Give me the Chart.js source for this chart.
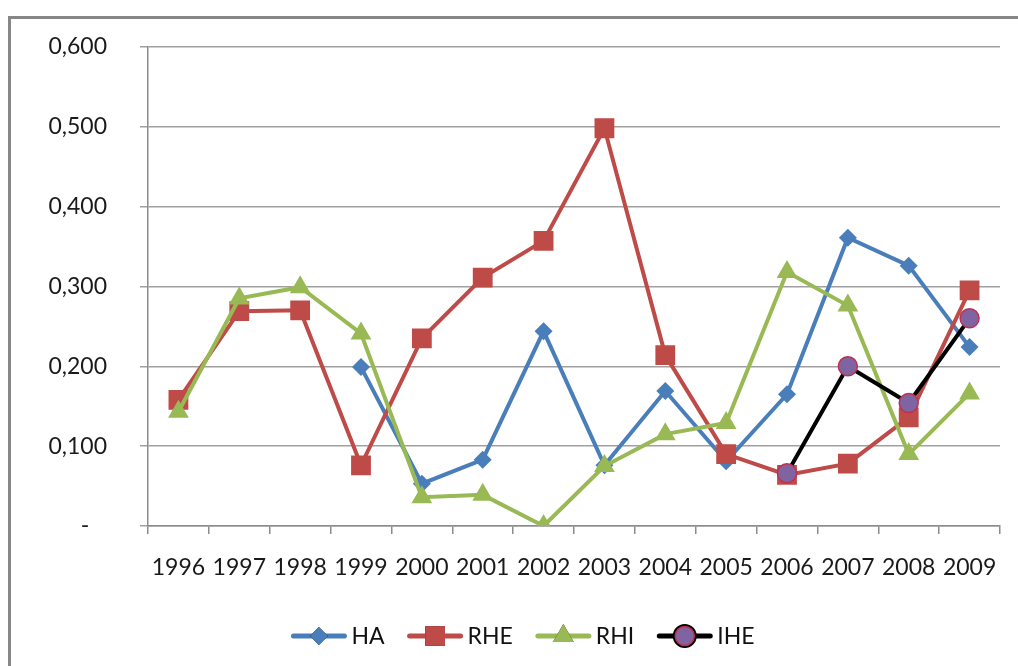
<!DOCTYPE html>
<html>
<head>
<meta charset="utf-8">
<script src="https://cdn.jsdelivr.net/npm/chart.js@4.4.1/dist/chart.umd.min.js"></script>
<style>
  html, body { margin: 0; padding: 0; background: #fff; }
  #wrap { width: 1018px; height: 666px; }
</style>
</head>
<body>
<div id="wrap"><canvas id="myChart" width="1018" height="666"></canvas></div>
<script>
const years = ['1996', '1997', '1998', '1999', '2000', '2001', '2002', '2003', '2004', '2005', '2006', '2007', '2008', '2009'];
const seriesNames = ['HA', 'RHE', 'RHI', 'IHE'];
const ha  = [null, null, null, 0.199, 0.053, 0.083, 0.244, 0.076, 0.169, 0.081, 0.165, 0.361, 0.326, 0.224];
const rhe = [0.158, 0.269, 0.270, 0.076, 0.235, 0.311, 0.357, 0.498, 0.214, 0.090, 0.064, 0.078, 0.136, 0.295];
const rhi = [0.143, 0.285, 0.299, 0.241, 0.036, 0.039, 0.000, 0.075, 0.115, 0.129, 0.318, 0.276, 0.090, 0.166];
const ihe = [null, null, null, null, null, null, null, null, null, null, 0.066, 0.200, 0.154, 0.260];
const yTicks = [0, 0.1, 0.2, 0.3, 0.4, 0.5, 0.6];

const FONT = 'Lato, "Liberation Sans", sans-serif';

// frame (left + top lines) and a hand drawn legend
const framePlugin = {
  id: 'frameAndLegend',
  beforeDraw: (chart) => {
    const {ctx} = chart;
    ctx.save();
    ctx.fillStyle = '#fff';
    ctx.fillRect(0, 0, chart.width, chart.height);
    ctx.strokeStyle = '#878787';
    ctx.lineWidth = 3;
    ctx.beginPath();
    ctx.moveTo(9.5, chart.height);
    ctx.lineTo(9.5, 17.5);
    ctx.lineTo(chart.width, 17.5);
    ctx.stroke();
    ctx.restore();
  },
  afterDraw: (chart) => {
    const {ctx} = chart;
    ctx.save();
    ctx.font = '23px ' + FONT;
    const lineW = 55, gapT = 5, gapItem = 23;
    const sets = chart.data.datasets;
    let total = 0;
    sets.forEach((d, i) => {
      total += lineW + gapT + ctx.measureText(d.label).width;
      if (i < sets.length - 1) total += gapItem;
    });
    let x = 523 - total / 2;
    const y = 636;
    sets.forEach((d) => {
      ctx.strokeStyle = d.borderColor;
      ctx.lineWidth = 5;
      ctx.lineCap = 'round';
      ctx.beginPath();
      ctx.moveTo(x + 2, y);
      ctx.lineTo(x + lineW - 2, y);
      ctx.stroke();
      Chart.helpers.drawPoint(ctx, {
        pointStyle: d.pointStyle,
        radius: d.pointRadius,
        borderWidth: d.pointBorderWidth
      }, x + lineW / 2, y);
      ctx.fillStyle = d.pointBackgroundColor;
      ctx.strokeStyle = d.pointBorderColor;
      ctx.lineWidth = d.pointBorderWidth;
      ctx.fill();
      if (d.pointBorderWidth) ctx.stroke();
      ctx.fillStyle = '#111';
      ctx.textBaseline = 'middle';
      ctx.fillText(d.label, x + lineW + gapT, y + 1);
      x += lineW + gapT + ctx.measureText(d.label).width + gapItem;
    });
    ctx.restore();
  }
};

function makeSet(label, values, color, style, radius, fill, border, bw, order) {
  return {
    label: label,
    data: values,
    order: order,
    borderColor: color,
    backgroundColor: color,
    borderWidth: 4,
    pointStyle: style,
    pointRadius: radius,
    pointHoverRadius: radius,
    pointBackgroundColor: fill,
    pointBorderColor: border,
    pointBorderWidth: bw,
    tension: 0,
    spanGaps: false
  };
}

const data = {
  labels: years,
  datasets: [
    makeSet(seriesNames[0], ha, '#4A7EBB', 'rectRot', 9, '#4A7EBB', '#4A7EBB', 0, 4),
    makeSet(seriesNames[1], rhe, '#BE4B48', 'rect', 14, '#BE4B48', '#BE4B48', 0, 3),
    makeSet(seriesNames[2], rhi, '#98B954', 'triangle', 12, '#98B954', '#98B954', 0, 2),
    makeSet(seriesNames[3], ihe, '#000000', 'circle', 9.5, '#8064A2', '#C0304D', 1.5, 1)
  ]
};

const config = {
  type: 'line',
  data: data,
  options: {
    responsive: false,
    animation: false,
    events: [],
    layout: {
      padding: { top: 46, right: 18, bottom: 0, left: 0 }
    },
    plugins: {
      legend: { display: false },
      tooltip: { enabled: false }
    },
    scales: {
      x: {
        type: 'category',
        offset: true,
        grid: {
          offset: true,
          drawOnChartArea: false,
          drawTicks: true,
          tickLength: 8,
          color: '#8c8c8c',
          lineWidth: 1.5
        },
        border: { display: true, color: '#8c8c8c', width: 1.5 },
        ticks: {
          color: '#1a1a1a',
          font: { family: FONT, size: 23 },
          padding: 20,
          maxRotation: 0,
          autoSkip: false
        },
        afterFit: (scale) => { scale.height = 140; }
      },
      y: {
        min: 0,
        max: 0.6,
        afterBuildTicks: (scale) => { scale.ticks = yTicks.map(v => ({value: v})); },
        grid: {
          color: '#a0a0a0',
          lineWidth: 1.5,
          drawTicks: true,
          tickLength: 8
        },
        border: { display: true, color: '#8c8c8c', width: 1.5 },
        ticks: {
          color: '#1a1a1a',
          font: { family: FONT, size: 23 },
          padding: 33,
          callback: (v) => v === 0 ? '-   ' : v.toFixed(3).replace('.', ',')
        },
        afterFit: (scale) => { scale.width = 148; }
      }
    }
  },
  plugins: [framePlugin]
};

const myChart = new Chart(document.getElementById('myChart'), config);
</script>
</body>
</html>
